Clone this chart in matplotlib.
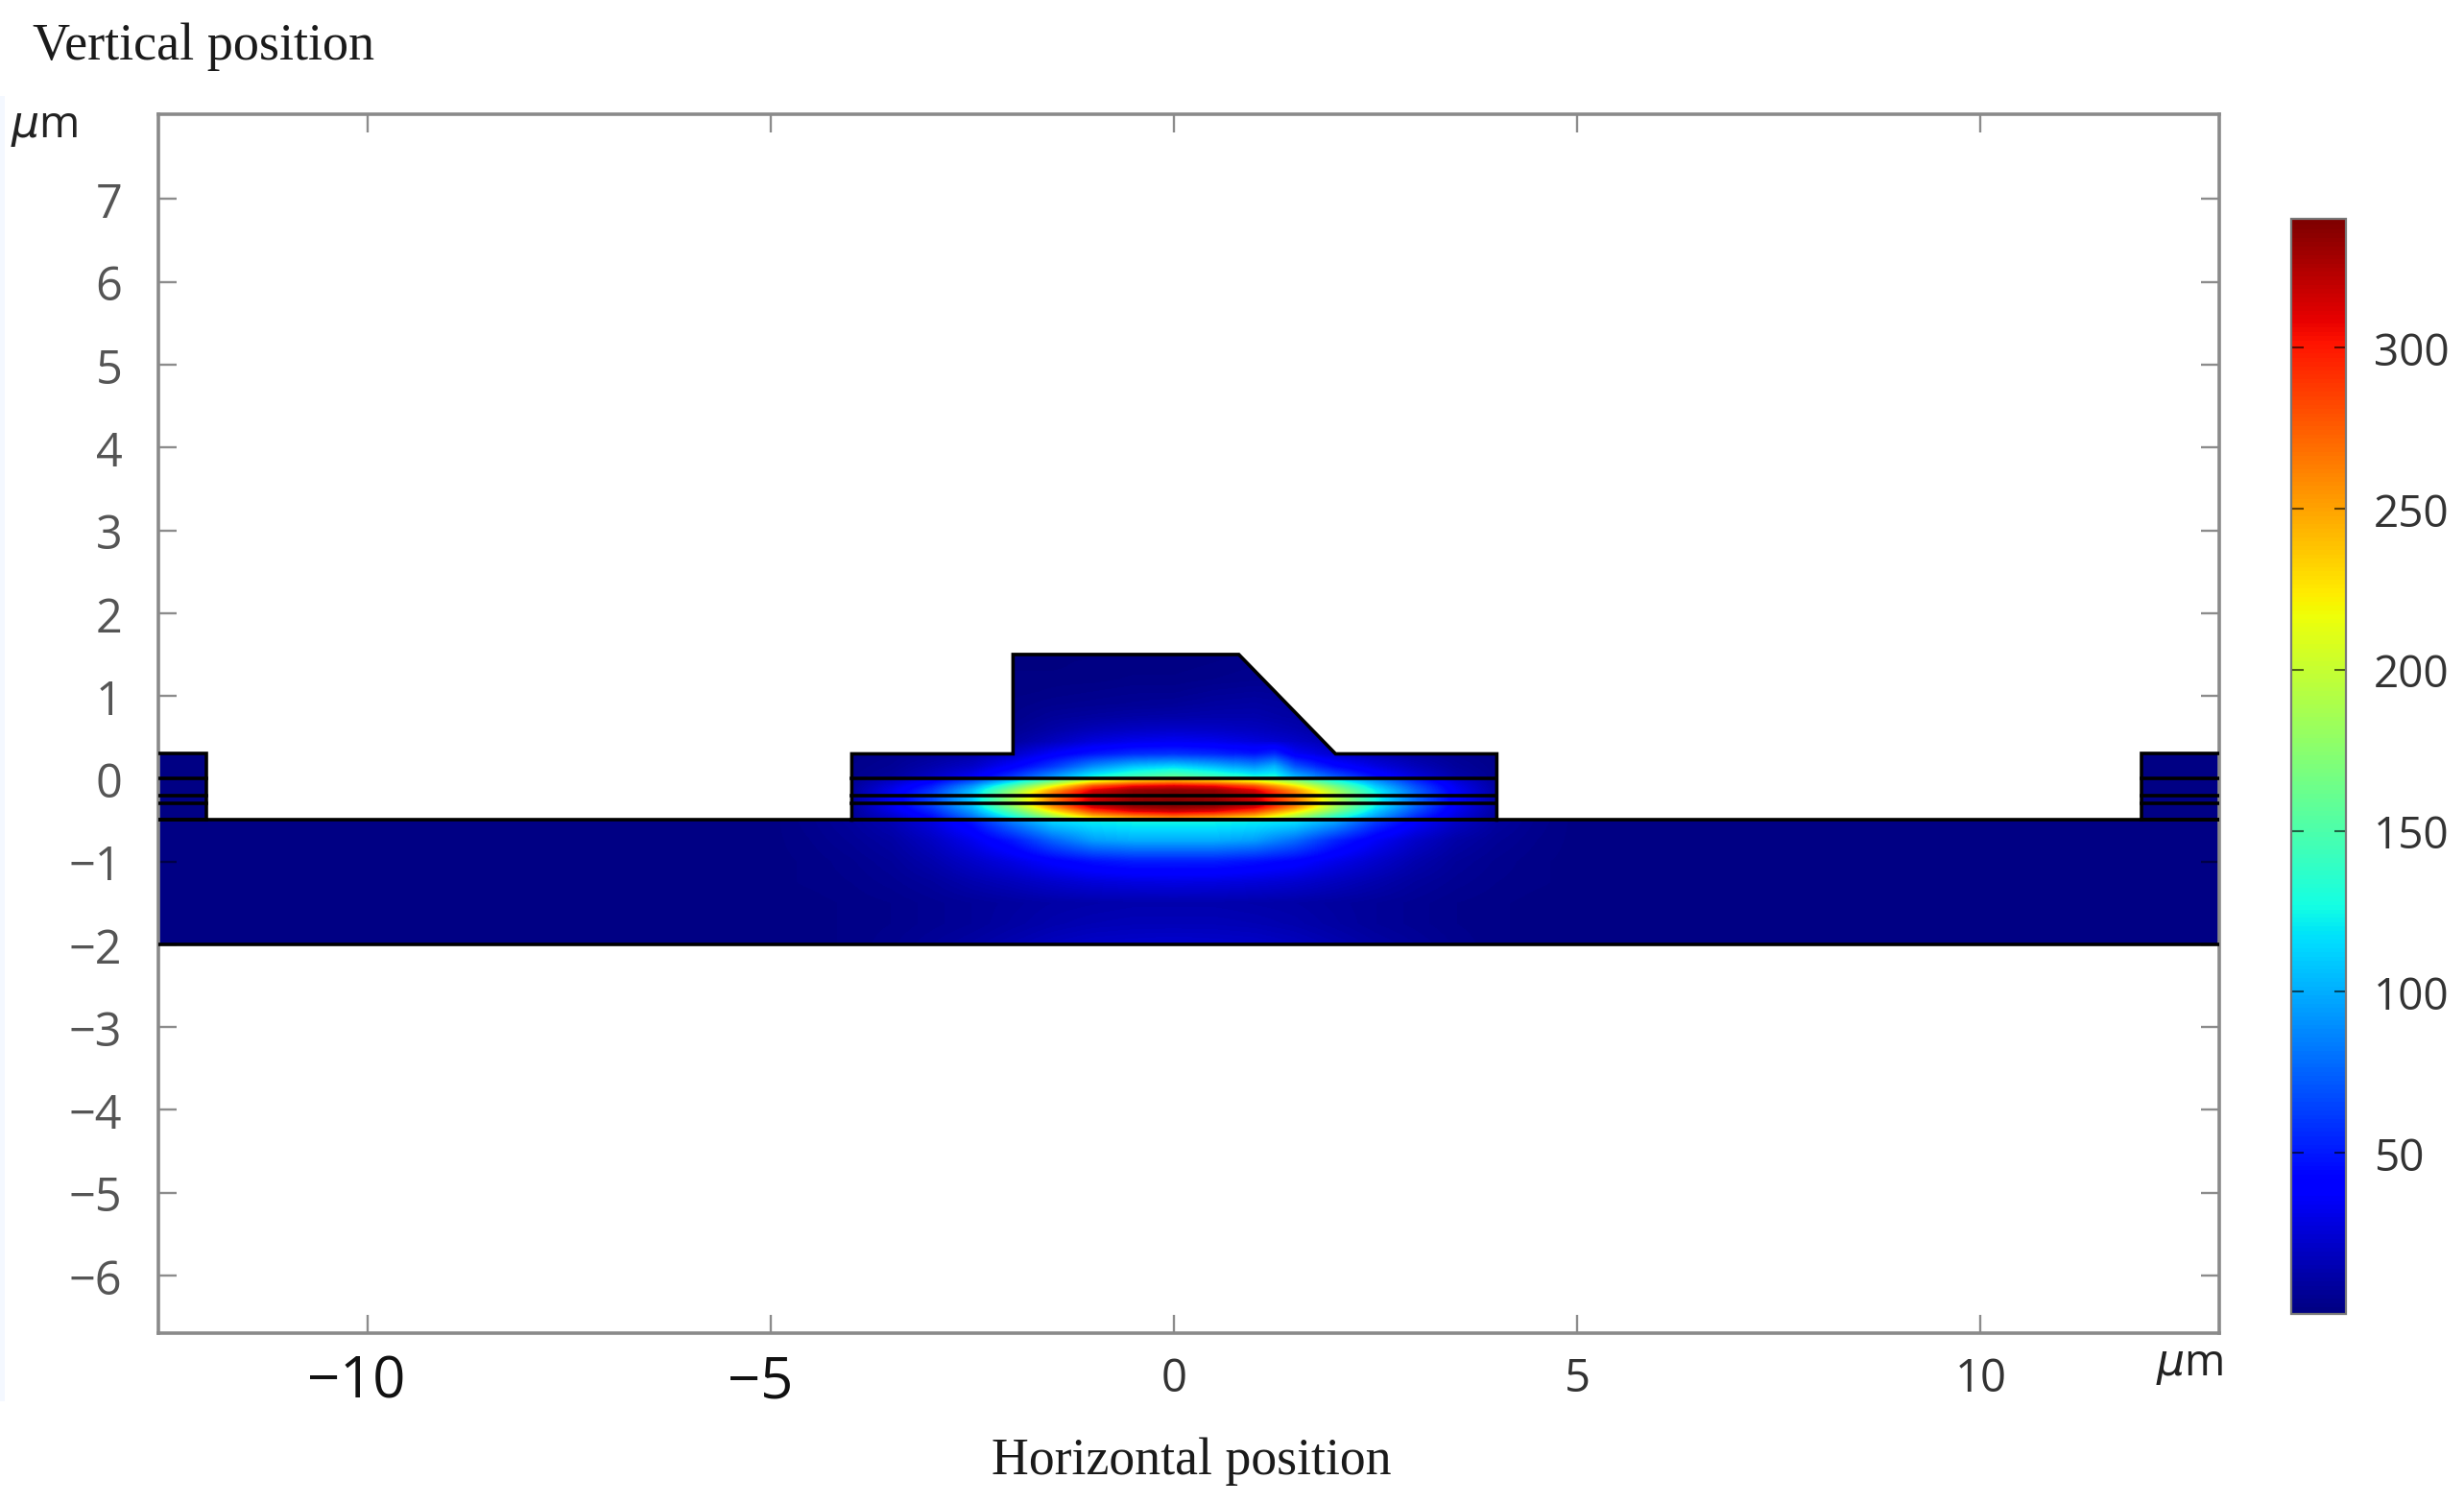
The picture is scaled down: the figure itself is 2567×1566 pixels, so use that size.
import numpy as np
import matplotlib
matplotlib.use("Agg")
import matplotlib.pyplot as plt
from matplotlib.colors import Normalize
from matplotlib.cm import ScalarMappable
from matplotlib.patches import Polygon, Rectangle
from matplotlib.transforms import ScaledTranslation

W, H = 2567, 1566
DPI = 100

# ---------- data ----------
x_ticks = [-10, -5, 0, 5, 10]
x_tick_labels = ["\u221210", "\u22125", "0", "5", "10"]
y_ticks = [7, 6, 5, 4, 3, 2, 1, 0, -1, -2, -3, -4, -5, -6]
cbar_ticks = [50, 100, 150, 200, 250, 300]
field_min, field_max = 0, 340
background_value = 2

ridge_outline_x = [-4, -4, -2, -2, 0.8, 2, 4, 4]
ridge_outline_y = [-0.5, 0.3, 0.3, 1.5, 1.5, 0.3, 0.3, -0.5]
layer_lines = [0, -0.2, -0.3, -0.5]
device_left, device_right = -12.6, 13
device_bottom = -2.0

# upper cladding + ridge: rows bottom to top
upper_x = np.arange(-4, 4.01, 0.5)
upper_y = np.arange(0, 1.51, 0.15)
upper_values = [
    [5,10,22,38,65,100,135,155,170,155,135,110,78,50,30,14,5],
    [4,7,14,22,40,62,90,108,115,105,90,70,45,30,18,9,4],
    [3,5,8,12,22,38,50,58,60,56,48,36,24,16,10,6,3],
    [2,3,4,6,10,19,28,33,35,33,28,22,14,8,5,3,2],
    [2,2,3,4,6,12,17,20,22,21,19,15,9,6,4,2,2],
    [1,1,2,3,4,8,10,12,13,14,14,11,7,4,3,2,1],
    [1,1,1,2,3,5,6,7,8,10,11,9,5,3,2,1,1],
    [1,1,1,1,2,3,4,5,5,7,8,7,4,2,1,1,1],
    [1,1,1,1,2,2,2,3,3,4,5,6,3,2,1,1,1],
    [1,1,1,1,1,1,2,2,2,3,4,4,2,1,1,1,1],
    [1,1,1,1,1,1,1,1,1,2,3,3,1,1,1,1,1],
]

# narrow bright streak on the sloped side of the ridge
streak_x = [0.75, 1.0, 1.25, 1.5, 1.75]
streak_y = [0, 0.15, 0.30, 0.45]
streak_values = [
    [145,135,135,110,94],
    [97,90,102,70,57],
    [52,48,56,36,30],
    [30,28,26,22,18],
]

# active layers between y = -0.5 and y = 0: rows bottom to top
core_x = np.arange(-4, 4.01, 0.5)
core_y = np.arange(-0.5, 0.01, 0.05)
core_values = [
    [7,20,40,72,110,160,205,230,240,230,205,170,125,85,50,25,8],
    [8,25,48,85,135,195,250,270,280,270,250,200,145,100,60,30,9],
    [8,30,55,95,155,225,285,310,318,310,285,230,170,110,68,33,10],
    [9,33,62,105,175,255,315,332,336,332,315,260,185,122,75,36,11],
    [9,34,65,110,185,270,325,338,340,338,325,270,195,128,78,38,11],
    [9,35,65,110,185,262,315,332,335,332,315,265,195,128,78,38,11],
    [9,34,65,110,185,270,325,338,340,338,325,270,195,128,78,38,11],
    [9,32,60,105,175,250,312,332,336,332,312,255,185,122,75,36,11],
    [8,28,52,92,150,215,280,305,312,305,280,225,165,110,68,33,10],
    [7,22,42,72,118,170,225,250,260,250,228,185,135,95,58,28,9],
    [6,18,35,60,95,140,180,210,228,210,185,150,115,85,50,25,8],
]

# substrate between y = -2 and y = -0.5: rows bottom to top
sub_x = np.arange(-5, 5.01, 0.5)
sub_y = np.arange(-2, -0.49, 0.25)
sub_values = [
    [2,2,3,5,8,11,15,19,22,23,24,23,22,19,15,11,8,5,3,2,2],
    [2,2,3,4,6,8,11,14,16,17,17,17,16,14,11,8,6,4,3,2,2],
    [2,2,3,4,6,8,10,12,13,14,14,14,13,12,10,8,6,4,3,2,2],
    [2,3,4,6,9,14,18,23,27,29,30,29,27,24,19,14,9,6,4,3,2],
    [2,3,5,8,14,22,30,40,48,52,52,52,48,42,32,23,14,8,5,3,2],
    [2,4,7,11,20,33,50,75,95,100,100,100,95,78,54,36,22,12,7,4,2],
    [2,5,9,16,30,50,88,118,125,128,128,128,125,122,102,65,40,22,10,5,2],
]

# ---------- layout helpers ----------
plt.rcParams["font.family"] = ["Open Sans", "DejaVu Sans"]
plt.rcParams["mathtext.fontset"] = "dejavusans"


def fx(px):
    return px / W


def fy(py):
    return 1 - py / H


fig = plt.figure(figsize=(W / DPI, H / DPI), dpi=DPI, facecolor="white")

# pale band on the far left of the scan
fig.add_artist(Rectangle((0, fy(1460)), 5 / W, (1460 - 100) / H,
                         transform=fig.transFigure, facecolor="#f4f8ff", edgecolor="none"))

L, R, T, B = 165, 2312, 119, 1388.5
ax = fig.add_axes([fx(L), fy(B), (R - L) / W, (B - T) / H])
cmap = plt.get_cmap("jet")
norm = Normalize(field_min, field_max)
base = cmap(norm(background_value))


def draw_field(values, xs, ys, clip):
    xs, ys = np.asarray(xs, float), np.asarray(ys, float)
    dx, dy = xs[1] - xs[0], ys[1] - ys[0]
    im = ax.imshow(np.array(values, float), origin="lower", aspect="auto", cmap=cmap, norm=norm,
                   extent=(xs[0] - dx / 2, xs[-1] + dx / 2, ys[0] - dy / 2, ys[-1] + dy / 2),
                   interpolation="bilinear", interpolation_stage="data", zorder=0.6)
    clip.set_transform(ax.transData)
    im.set_clip_path(clip)


# flat background parts of the device
ax.add_patch(Rectangle((device_left, device_bottom), device_right - device_left, -0.5 - device_bottom,
                       fc=base, ec="none", zorder=0.5))
ax.add_patch(Rectangle((device_left, -0.5), -12 - device_left, 0.8, fc=base, ec="none", zorder=0.5))
ax.add_patch(Rectangle((12, -0.5), device_right - 12, 0.8, fc=base, ec="none", zorder=0.5))

upper_poly = list(zip(ridge_outline_x[1:-1], ridge_outline_y[1:-1])) + [(4, 0), (-4, 0)]
draw_field(upper_values, upper_x, upper_y, Polygon(upper_poly, closed=True))
draw_field(streak_values, streak_x, streak_y,
           Rectangle((streak_x[0], streak_y[0]), streak_x[-1] - streak_x[0], streak_y[-1] - streak_y[0]))
draw_field(core_values, core_x, core_y, Rectangle((-4, -0.5), 8, 0.5))
draw_field(sub_values, sub_x, sub_y, Rectangle((-5, -2), 10, 1.5))

# boundaries
line_kw = dict(color="black", lw=2.6, zorder=3, solid_capstyle="projecting", solid_joinstyle="miter")
ax.plot(ridge_outline_x, ridge_outline_y, **line_kw)
for yl in layer_lines:
    ax.plot([-4, 4], [yl, yl], **line_kw)
    ax.plot([device_left, -12], [yl, yl], **line_kw)
    ax.plot([12, device_right], [yl, yl], **line_kw)
ax.plot([device_left, -12, -12], [0.3, 0.3, -0.5], **line_kw)
ax.plot([device_right, 12, 12], [0.3, 0.3, -0.5], **line_kw)
ax.plot([device_left, device_right], [-0.5, -0.5], **line_kw)
ax.plot([device_left, device_right], [device_bottom, device_bottom], **line_kw)

ax.set_xlim(-12.6, 12.96)
ax.set_ylim(-6.69, 8.025)

for s in ax.spines.values():
    s.set_color("#8a8a8a")
    s.set_linewidth(2.6)

ax.set_xticks(x_ticks)
ax.set_xticklabels(x_tick_labels)
ax.set_yticks(y_ticks)
ax.set_yticklabels([str(v).replace("-", "\u2212") for v in y_ticks])
ax.tick_params(axis="both", which="major", direction="in", length=14, width=1.7,
               color=(0, 0, 0, 0.45), top=True, right=True)
ax.tick_params(axis="y", pad=27, labelsize=35, labelcolor="#555555")
ax.tick_params(axis="x", pad=18, labelsize=34, labelcolor="#333333")

# the two negative x labels are larger in the original
for lab, dx_px, dy_px in zip(ax.get_xticklabels(), [-12, -11, 0, 0, 0], [3, 3, 0, 0, 0]):
    if lab.get_text().startswith("\u2212"):
        lab.set_fontsize(43)
        lab.set_color("#111111")
    lab.set_transform(lab.get_transform() + ScaledTranslation(dx_px / DPI, dy_px / DPI, fig.dpi_scale_trans))
for lab in ax.get_yticklabels():
    lab.set_transform(lab.get_transform() + ScaledTranslation(0, -1 / DPI, fig.dpi_scale_trans))

# colour bar
cax = fig.add_axes([fx(2387), fy(1369), (2444 - 2387) / W, (1369 - 228) / H])
cb = fig.colorbar(ScalarMappable(norm=norm, cmap=cmap), cax=cax, ticks=cbar_ticks)
cb.solids.set_edgecolor("face")
cb.outline.set_edgecolor("#777777")
cb.outline.set_linewidth(1.6)
cax.tick_params(axis="y", direction="in", length=9, width=1.5, color=(0, 0, 0, 0.6),
                left=True, right=True, labelsize=33, labelcolor="#333333", pad=21)
for lab in cax.get_yticklabels():
    lab.set_transform(lab.get_transform() + ScaledTranslation(0, -1 / DPI, fig.dpi_scale_trans))

# titles and units
serif = ["Liberation Serif", "DejaVu Serif"]
fig.text(fx(34), fy(62), "Vertical position", family=serif, fontsize=39, color="#1a1a1a",
         ha="left", va="baseline")
fig.text(fx(1241), fy(1536), "Horizontal position", family=serif, fontsize=38.7, color="#1a1a1a",
         ha="center", va="baseline")
fig.text(fx(11), fy(143), r"$\mathit{\mu}$m", fontsize=33, color="#222222", ha="left", va="baseline")
fig.text(fx(2246), fy(1433), r"$\mathit{\mu}$m", fontsize=33, color="#222222", ha="left", va="baseline")

fig.savefig("out.png", dpi=DPI, facecolor="white")
